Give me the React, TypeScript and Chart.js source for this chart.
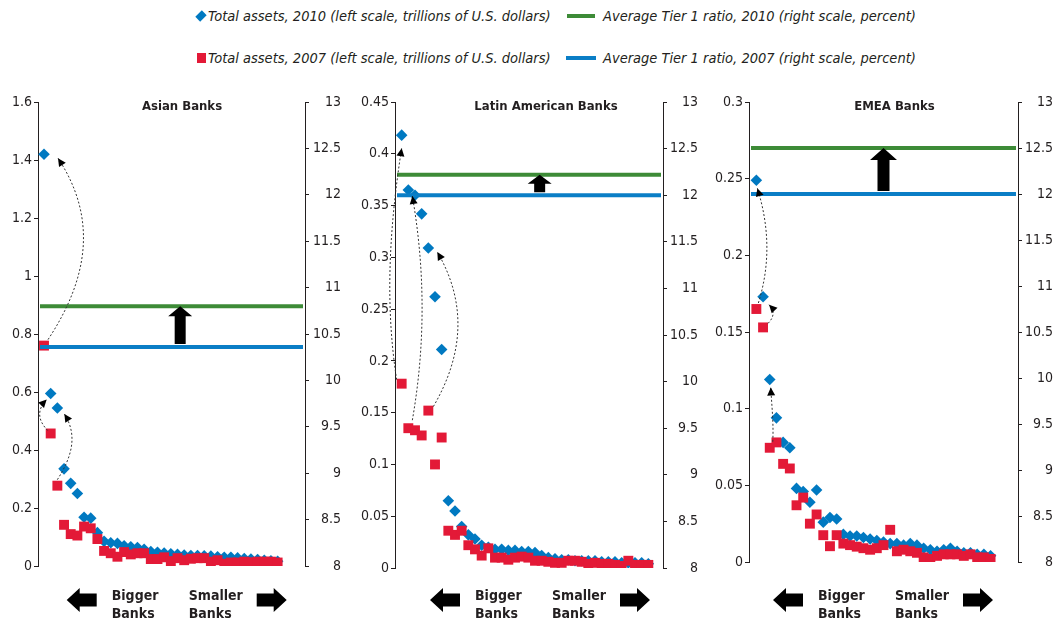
import React, { useEffect, useRef } from "react";
import { Chart, registerables } from "chart.js";

Chart.register(...registerables);

const FONT = "'Liberation Sans Narrow', 'Arial Narrow', 'DejaVu Sans Condensed', sans-serif";
const INK = "#231f20";
const BLUE = "#0079c1";
const RED = "#e31937";
const GREEN = "#3d8b37";
const LINEBLUE = "#0a7ec6";

// ---------- DATA ----------
const legendLabels2010 = [
  "Total assets, 2010 (left scale, trillions of U.S. dollars)",
  "Average Tier 1 ratio, 2010 (right scale, percent)",
];
const legendLabels2007 = [
  "Total assets, 2007 (left scale, trillions of U.S. dollars)",
  "Average Tier 1 ratio, 2007 (right scale, percent)",
];
const panelTitles = ["Asian Banks", "Latin American Banks", "EMEA Banks"];
const biggerLabel = ["Bigger", "Banks"];
const smallerLabel = ["Smaller", "Banks"];

const rightTicks = [8, 8.5, 9, 9.5, 10, 10.5, 11, 11.5, 12, 12.5, 13];

const asianLeftTicks = [0, 0.2, 0.4, 0.6, 0.8, 1, 1.2, 1.4, 1.6];
const asianAssets2010 = [
  1.42, 0.595, 0.545, 0.335, 0.285, 0.25, 0.168, 0.165, 0.115, 0.085, 0.08, 0.078,
  0.07, 0.066, 0.064, 0.058, 0.05, 0.047, 0.045, 0.042, 0.04, 0.038, 0.036, 0.036,
  0.035, 0.034, 0.032, 0.03, 0.03, 0.028, 0.026, 0.024, 0.022, 0.02, 0.018, 0.016,
];
const asianAssets2007 = [
  0.76, 0.457, 0.277, 0.142, 0.11, 0.105, 0.136, 0.13, 0.093, 0.052, 0.044, 0.032,
  0.048, 0.04, 0.044, 0.044, 0.024, 0.024, 0.03, 0.017, 0.027, 0.02, 0.025, 0.027,
  0.027, 0.015, 0.02, 0.008, 0.012, 0.012, 0.015, 0.013, 0.015, 0.015, 0.015, 0.012,
];
const asianTier1_2010 = 10.8;
const asianTier1_2007 = 10.36;
// bank moves: [index 2007, index 2010]
const asianMoves = [[0, 0], [1, 1], [2, 2]];

const latinLeftTicks = [0, 0.05, 0.1, 0.15, 0.2, 0.25, 0.3, 0.35, 0.4, 0.45];
const latinAssets2010 = [
  0.418, 0.365, 0.36, 0.342, 0.309, 0.262, 0.211, 0.065, 0.055, 0.04, 0.032, 0.028,
  0.022, 0.02, 0.018, 0.018, 0.017, 0.017, 0.016, 0.016, 0.015, 0.012, 0.01, 0.009,
  0.008, 0.008, 0.007, 0.007, 0.007, 0.007, 0.006, 0.006, 0.006, 0.005, 0.005, 0.005,
  0.005, 0.004,
];
const latinAssets2007 = [
  0.178, 0.135, 0.133, 0.128, 0.152, 0.1, 0.126, 0.036, 0.032, 0.036, 0.022, 0.018,
  0.012, 0.019, 0.01, 0.01, 0.008, 0.01, 0.011, 0.01, 0.007, 0.007, 0.006, 0.005,
  0.005, 0.007, 0.007, 0.006, 0.004, 0.005, 0.004, 0.004, 0.003, 0.002, 0.007, 0.003,
  0.003, 0.003,
];
const latinTier1_2010 = 12.22;
const latinTier1_2007 = 12.0;
const latinMoves = [[0, 0], [1, 1], [4, 4]];

const emeaLeftTicks = [0, 0.05, 0.1, 0.15, 0.2, 0.25, 0.3];
const emeaAssets2010 = [
  0.249, 0.173, 0.119, 0.094, 0.078, 0.0745, 0.048, 0.046, 0.039, 0.047, 0.026, 0.029,
  0.028, 0.018, 0.017, 0.017, 0.016, 0.015, 0.014, 0.013, 0.012, 0.012, 0.011, 0.012,
  0.011, 0.009, 0.008, 0.007, 0.008, 0.009, 0.007, 0.006, 0.006, 0.005, 0.005, 0.004,
];
const emeaAssets2007 = [
  0.165, 0.153, 0.0745, 0.078, 0.064, 0.061, 0.037, 0.042, 0.025, 0.031, 0.0175, 0.0103,
  0.0175, 0.012, 0.011, 0.01, 0.009, 0.008, 0.009, 0.011, 0.021, 0.007, 0.008, 0.007,
  0.006, 0.003, 0.002, 0.004, 0.005, 0.005, 0.005, 0.004, 0.005, 0.003, 0.003, 0.002,
];
const emeaTier1_2010 = 12.5;
const emeaTier1_2007 = 12.0;
const emeaMoves = [[0, 0], [1, 1], [2, 2]];

// ---------- LAYOUT / STYLE (per panel) ----------
type Curve = { bend: number; s: [number, number]; e: [number, number] };
type PanelCfg = {
  left: number; width: number; leftW: number; rightW: number; padRight: number; padBottom: number;
  xMin: number; xMax: number; leftTicks: number[];
  a2010: number[]; a2007: number[]; t2010: number; t2007: number; moves: number[][];
  title: string; titleDx: number; arrowX: number; headW: number; shaftW: number; headH: number;
  curves: Curve[]; bottomDx: number;
};

const panels: PanelCfg[] = [
  {
    left: 0, width: 350, leftW: 38, rightW: 36, padRight: 9, padBottom: 55,
    xMin: -0.9, xMax: 39.1, leftTicks: asianLeftTicks,
    a2010: asianAssets2010, a2007: asianAssets2007, t2010: asianTier1_2010, t2007: asianTier1_2007,
    moves: asianMoves, title: panelTitles[0], titleDx: 10.5, arrowX: 20.4,
    headW: 24, shaftW: 11, headH: 10,
    curves: [
      { bend: 40, s: [4, -6], e: [14, 4] },
      { bend: -10, s: [-3, -3], e: [-4, 6] },
      { bend: 14, s: [0, -6], e: [7, 6] },
    ],
    bottomDx: 28.7,
  },
  {
    left: 355, width: 350, leftW: 40, rightW: 35, padRight: 7, padBottom: 53,
    xMin: -1, xMax: 39.2, leftTicks: latinLeftTicks,
    a2010: latinAssets2010, a2007: latinAssets2007, t2010: latinTier1_2010, t2007: latinTier1_2007,
    moves: latinMoves, title: panelTitles[1], titleDx: 17, arrowX: 20.7,
    headW: 24, shaftW: 11, headH: 9,
    curves: [
      { bend: -12, s: [-5, -4], e: [0, 13] },
      { bend: 13, s: [4, -8], e: [4, 6] },
      { bend: 30, s: [5, -4], e: [9, 4] },
    ],
    bottomDx: 35,
  },
  {
    left: 705, width: 348, leftW: 44, rightW: 35, padRight: 0, padBottom: 59,
    xMin: -1.1, xMax: 39.1, leftTicks: emeaLeftTicks,
    a2010: emeaAssets2010, a2007: emeaAssets2007, t2010: emeaTier1_2010, t2007: emeaTier1_2007,
    moves: emeaMoves, title: panelTitles[2], titleDx: 11, arrowX: 19,
    headW: 27, shaftW: 12, headH: 12,
    curves: [
      { bend: 12, s: [2, -6], e: [1, 8] },
      { bend: 6, s: [5, -4], e: [6, 8] },
      { bend: 1, s: [3, -6], e: [1, 8] },
    ],
    bottomDx: 24,
  },
];

function fatHArrow(ctx: CanvasRenderingContext2D, tipX: number, cy: number, dir: number) {
  const L = 30, hl = 13, hh = 12, sh = 6.5;
  ctx.beginPath();
  ctx.moveTo(tipX, cy);
  ctx.lineTo(tipX + dir * hl, cy - hh);
  ctx.lineTo(tipX + dir * hl, cy - sh);
  ctx.lineTo(tipX + dir * L, cy - sh);
  ctx.lineTo(tipX + dir * L, cy + sh);
  ctx.lineTo(tipX + dir * hl, cy + sh);
  ctx.lineTo(tipX + dir * hl, cy + hh);
  ctx.closePath();
  ctx.fill();
}

function makePlugin(cfg: PanelCfg) {
  return {
    id: "panelDecor",
    afterDatasetsDraw(chart: any) {
      const ctx: CanvasRenderingContext2D = chart.ctx;
      const { chartArea } = chart;
      const xs = chart.scales.x;
      const ys = chart.scales.y;
      const y2 = chart.scales.y2;
      ctx.save();

      // title
      ctx.fillStyle = INK;
      ctx.font = `bold 13px ${FONT}`;
      ctx.textAlign = "center";
      ctx.textBaseline = "middle";
      ctx.fillText(cfg.title, (chartArea.left + chartArea.right) / 2 + cfg.titleDx, 107);

      // fat arrow between tier 1 lines
      const cx = xs.getPixelForValue(cfg.arrowX);
      const yb = y2.getPixelForValue(cfg.t2007) - 3;
      const yt = y2.getPixelForValue(cfg.t2010);
      ctx.fillStyle = "#000";
      ctx.beginPath();
      ctx.moveTo(cx - cfg.shaftW / 2, yb);
      ctx.lineTo(cx - cfg.shaftW / 2, yt + cfg.headH);
      ctx.lineTo(cx - cfg.headW / 2, yt + cfg.headH);
      ctx.lineTo(cx, yt);
      ctx.lineTo(cx + cfg.headW / 2, yt + cfg.headH);
      ctx.lineTo(cx + cfg.shaftW / 2, yt + cfg.headH);
      ctx.lineTo(cx + cfg.shaftW / 2, yb);
      ctx.closePath();
      ctx.fill();

      // dashed curved arrows (2007 -> 2010 position)
      cfg.moves.forEach((m, i) => {
        const c = cfg.curves[i];
        const sx = xs.getPixelForValue(m[0]) + c.s[0];
        const sy = ys.getPixelForValue(cfg.a2007[m[0]]) + c.s[1];
        const ex = xs.getPixelForValue(m[1]) + c.e[0];
        const ey = ys.getPixelForValue(cfg.a2010[m[1]]) + c.e[1];
        const dy = ey - sy;
        const c1x = sx + c.bend, c1y = sy + dy / 3;
        const c2x = ex + c.bend, c2y = sy + (2 * dy) / 3;
        ctx.strokeStyle = "#333";
        ctx.lineWidth = 1;
        ctx.setLineDash([2, 2]);
        ctx.beginPath();
        ctx.moveTo(sx, sy);
        ctx.bezierCurveTo(c1x, c1y, c2x, c2y, ex, ey);
        ctx.stroke();
        ctx.setLineDash([]);
        const ang = Math.atan2(ey - c2y, ex - c2x);
        const len = 8, w = 4;
        const bx = ex - Math.cos(ang) * len, by = ey - Math.sin(ang) * len;
        ctx.fillStyle = "#000";
        ctx.beginPath();
        ctx.moveTo(ex, ey);
        ctx.lineTo(bx + Math.sin(ang) * w, by - Math.cos(ang) * w);
        ctx.lineTo(bx - Math.sin(ang) * w, by + Math.cos(ang) * w);
        ctx.closePath();
        ctx.fill();
      });

      // bottom labels
      const ax = chartArea.left + cfg.bottomDx;
      ctx.fillStyle = "#000";
      fatHArrow(ctx, ax, 600, 1);
      fatHArrow(ctx, ax + 220, 600, -1);
      ctx.fillStyle = INK;
      ctx.font = `bold 14px ${FONT}`;
      ctx.textAlign = "left";
      ctx.textBaseline = "alphabetic";
      ctx.fillText(biggerLabel[0], ax + 45, 600);
      ctx.fillText(biggerLabel[1], ax + 45, 618);
      ctx.fillText(smallerLabel[0], ax + 122, 600);
      ctx.fillText(smallerLabel[1], ax + 122, 618);
      ctx.restore();
    },
  };
}

function Panel({ cfg }: { cfg: PanelCfg }) {
  const ref = useRef<HTMLCanvasElement>(null);
  useEffect(() => {
    if (!ref.current) return;
    const lineSpan = (v: number) => [
      { x: cfg.xMin + 0.3, y: v },
      { x: cfg.xMax - 0.3, y: v },
    ];
    const tickFont = { family: FONT, size: 14 };
    const chart = new Chart(ref.current, {
      type: "scatter",
      data: {
        datasets: [
          {
            type: "line",
            data: lineSpan(cfg.t2007),
            yAxisID: "y2",
            borderColor: LINEBLUE,
            borderWidth: 4,
            pointRadius: 0,
            showLine: true,
            borderCapStyle: "butt",
          } as any,
          {
            type: "line",
            data: lineSpan(cfg.t2010),
            yAxisID: "y2",
            borderColor: GREEN,
            borderWidth: 4,
            pointRadius: 0,
            showLine: true,
            borderCapStyle: "butt",
          } as any,
          {
            data: cfg.a2007.map((v, i) => ({ x: i, y: v })),
            yAxisID: "y",
            pointStyle: "rect",
            pointRadius: 7,
            backgroundColor: RED,
            borderColor: RED,
            borderWidth: 0,
          },
          {
            data: cfg.a2010.map((v, i) => ({ x: i, y: v })),
            yAxisID: "y",
            pointStyle: "rectRot",
            pointRadius: 5.8,
            backgroundColor: BLUE,
            borderColor: BLUE,
            borderWidth: 0,
          },
        ],
      },
      options: {
        responsive: false,
        animation: false,
        events: [],
        layout: { padding: { top: 102, bottom: cfg.padBottom, left: 0, right: cfg.padRight } },
        plugins: { legend: { display: false }, tooltip: { enabled: false } },
        scales: {
          x: { type: "linear", display: false, min: cfg.xMin, max: cfg.xMax },
          y: {
            type: "linear",
            position: "left",
            min: 0,
            max: cfg.leftTicks[cfg.leftTicks.length - 1],
            afterBuildTicks: (s: any) => {
              s.ticks = cfg.leftTicks.map((v) => ({ value: v }));
            },
            afterFit: (s: any) => {
              s.width = cfg.leftW;
            },
            grid: { drawOnChartArea: false, drawTicks: true, tickLength: 4, color: INK },
            border: { display: true, color: INK, width: 1 },
            ticks: { padding: 2, color: INK, font: tickFont, callback: (v: any) => String(v) },
          },
          y2: {
            type: "linear",
            position: "right",
            min: rightTicks[0],
            max: rightTicks[rightTicks.length - 1],
            afterBuildTicks: (s: any) => {
              s.ticks = rightTicks.map((v) => ({ value: v }));
            },
            afterFit: (s: any) => {
              s.width = cfg.rightW;
            },
            grid: { drawOnChartArea: false, drawTicks: true, tickLength: 4, color: INK },
            border: { display: true, color: INK, width: 1 },
            ticks: { padding: 4, color: INK, font: tickFont, crossAlign: "far", callback: (v: any) => String(v) },
          },
        },
      } as any,
      plugins: [makePlugin(cfg)],
    });
    return () => chart.destroy();
  }, [cfg]);
  return (
    <canvas
      ref={ref}
      width={cfg.width}
      height={621}
      style={{ position: "absolute", left: cfg.left, top: 0, width: cfg.width, height: 621 }}
    />
  );
}

const legendText: React.CSSProperties = {
  position: "absolute",
  fontStyle: "italic",
  fontSize: 14.5,
  lineHeight: "18px",
  color: INK,
  whiteSpace: "nowrap",
};

export default function App() {
  return (
    <div
      style={{
        position: "fixed",
        left: 0,
        top: 0,
        width: 1053,
        height: 621,
        background: "#fff",
        fontFamily: FONT,
        overflow: "hidden",
      }}
    >
      {/* legend row 1 */}
      <div
        style={{
          position: "absolute",
          left: 197,
          top: 12,
          width: 8,
          height: 8,
          background: BLUE,
          transform: "rotate(45deg) scale(0.85, 1.15)",
        }}
      />
      <div style={{ ...legendText, left: 208, top: 7 }}>{legendLabels2010[0]}</div>
      <div style={{ position: "absolute", left: 567, top: 14, width: 28, height: 4, background: GREEN }} />
      <div style={{ ...legendText, left: 603, top: 7 }}>{legendLabels2010[1]}</div>
      {/* legend row 2 */}
      <div style={{ position: "absolute", left: 197, top: 53, width: 9, height: 10, background: RED }} />
      <div style={{ ...legendText, left: 208, top: 49 }}>{legendLabels2007[0]}</div>
      <div style={{ position: "absolute", left: 566, top: 56, width: 30, height: 4, background: LINEBLUE }} />
      <div style={{ ...legendText, left: 603, top: 49 }}>{legendLabels2007[1]}</div>
      {panels.map((p, i) => (
        <Panel key={i} cfg={p} />
      ))}
    </div>
  );
}
